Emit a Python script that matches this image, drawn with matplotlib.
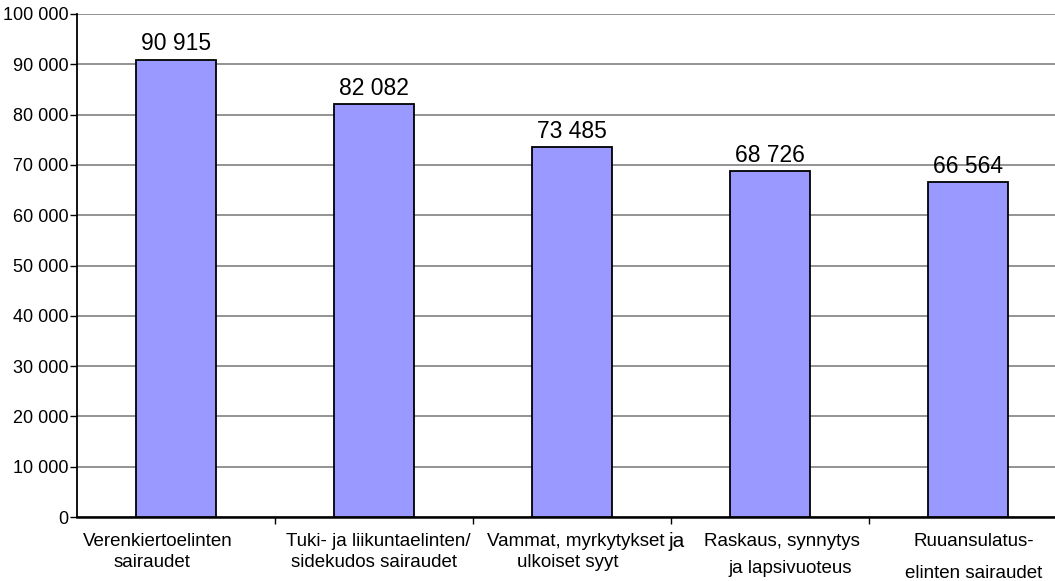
import matplotlib
matplotlib.use("Agg")
import matplotlib.pyplot as plt
import numpy as np

# category labels (two lines each) and values
line1 = ["Verenkiertoelinten", "Tuki- ja liikuntaelinten/", "Vammat, myrkytykset",
         "Raskaus, synnytys", "Ruuansulatus-"]
line2 = ["sairaudet", "sidekudos sairaudet", "ulkoiset syyt",
         "ja lapsivuoteus", "elinten sairaudet"]
values = [90915, 82082, 73485, 68726, 66564]
y_ticks = list(range(0, 100001, 10000))

plt.rcParams['font.family'] = ['Liberation Sans', 'DejaVu Sans']

fig = plt.figure(figsize=(10.55, 5.81), dpi=100)
ax = fig.add_axes([77 / 1055, 64 / 581, 990 / 1055, 503 / 581])

x = np.arange(len(values))
ax.set_axisbelow(True)
ax.bar(x, values, width=0.4, color='#9999FF', edgecolor='black', linewidth=1.3, zorder=3)

for xi, v in zip(x, values):
    ax.text(xi, v + 900, f"{v:,}".replace(",", " "), ha='center', va='bottom', fontsize=16.5)

ax.set_xlim(-0.5, len(values) - 0.5)
ax.set_ylim(0, 100000)
ax.set_yticks(y_ticks)
ax.set_yticklabels([f"{t:,}".replace(",", " ") for t in y_ticks], fontsize=13)
ax.yaxis.grid(True, color='#808080', linewidth=1.2)

ax.set_xticks([])
ax.set_xticks(np.arange(0.5, len(values) - 0.5, 1), minor=True)
ax.tick_params(axis='x', which='minor', length=5, width=1, direction='out')
ax.tick_params(axis='y', length=5, width=1, pad=1)

for s in ['top', 'right']:
    ax.spines[s].set_visible(False)
ax.spines['left'].set_linewidth(1.3)
ax.spines['bottom'].set_linewidth(1.8)

# label placement nudges (fraction of category width) and second-line drop (points)
offs1 = [-0.09, 0.02, 0.465, 0.06, 0.03]
offs2 = [-0.12, 0.0, -0.02, 0.10, 0.03]
drop2 = [15, 15, 15.5, 19.5, 23]
ha1 = ['center', 'center', 'right', 'center', 'center']
for i in range(len(values)):
    ax.annotate(line1[i], xy=(i + offs1[i], 0), xycoords=('data', 'axes fraction'),
                xytext=(0, -17.5), textcoords='offset points', ha=ha1[i], va='center',
                fontsize=13.5)
    ax.annotate(line2[i], xy=(i + offs2[i], 0), xycoords=('data', 'axes fraction'),
                xytext=(0, -17.5 - drop2[i]), textcoords='offset points',
                ha='center', va='center', fontsize=13.5)

# the larger "ja" at the end of the third label
ax.annotate("ja", xy=(2.487, 0), xycoords=('data', 'axes fraction'),
            xytext=(0, -17.5), textcoords='offset points', ha='left', va='center',
            fontsize=15)

fig.savefig("out.png", dpi=100)
